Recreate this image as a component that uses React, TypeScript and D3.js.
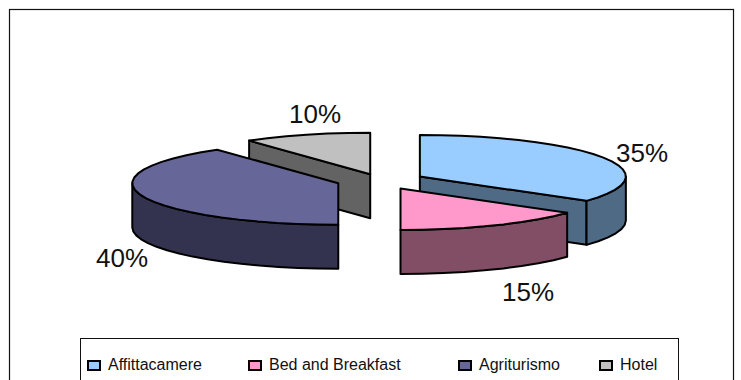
import React from "react";
import * as d3 from "d3";

// Accommodation types and their share of the total, in percent.
const categories = ["Affittacamere", "Bed and Breakfast", "Agriturismo", "Hotel"];
const shares = [35, 15, 40, 10];

const topColors = ["#99CCFF", "#FF99CC", "#666699", "#C0C0C0"];
const wallColors = ["#4F6A85", "#824E66", "#333350", "#636363"];
const explode = [0.215, 0.215, 0.215, 0.16];

// Percent label centres and legend column positions.
const labelAnchors: [number, number][] = [[642, 153], [528, 292], [122, 258], [315, 114]];
const legendColumns = [88, 249, 459, 600];

const WIDTH = 741;
const HEIGHT = 380;
const CX = 380.4;
const CY = 180.5;
const RX = 206;
const RY = 41.5;
const DEPTH = 44;
const EDGE = 2;

type Pt = [number, number];

const project = (c: Pt, angle: number, dy = 0): Pt => [
  c[0] + RX * Math.sin(angle),
  c[1] - RY * Math.cos(angle) + dy,
];

// Rim points between two angles, coarse enough to keep the faceted outline of the drawing.
function rim(c: Pt, a0: number, a1: number, dy = 0): Pt[] {
  const steps = Math.max(2, Math.round((a1 - a0) / 0.1));
  return d3.range(steps + 1).map((i) => project(c, a0 + ((a1 - a0) * i) / steps, dy));
}

const line = d3.line<Pt>().curve(d3.curveLinear);
const closed = (pts: Pt[]) => (line(pts) ?? "") + "Z";

export default function App() {
  const arcs = d3.pie<number>().sort(null)(shares);

  const slices = arcs.map((arc, i) => {
    const mid = (arc.startAngle + arc.endAngle) / 2;
    const c: Pt = [
      CX + explode[i] * RX * Math.sin(mid),
      CY - explode[i] * RY * Math.cos(mid),
    ];
    const a0 = arc.startAngle;
    const a1 = arc.endAngle;
    const top = closed([c, ...rim(c, a0, a1)]);

    // Radial walls that face the viewer, seen through the gap between slices.
    const walls: string[] = [];
    const wall = (a: number) => {
      const p = project(c, a);
      walls.push(closed([c, p, [p[0], p[1] + DEPTH], [c[0], c[1] + DEPTH]]));
    };
    if (i === 0) wall(a1);
    if (i === 3) wall(a0);

    // Outer curved wall: only the part of the rim on the near side of the ellipse.
    const lo = Math.max(a0, Math.PI / 2);
    const hi = Math.min(a1, (3 * Math.PI) / 2);
    const outer = lo < hi
      ? closed([...rim(c, lo, hi), ...rim(c, lo, hi, DEPTH).reverse()])
      : null;

    return { i, top, walls, outer };
  });

  // Back slices first so the nearer ones overlap them.
  const order = [3, 0, 2, 1];

  return (
    <svg
      width={WIDTH}
      height={HEIGHT}
      viewBox={`0 0 ${WIDTH} ${HEIGHT}`}
      style={{ position: "fixed", left: 0, top: 0, background: "#fff" }}
      fontFamily="'Liberation Sans', Arial, sans-serif"
    >
      <rect x={9.5} y={9.5} width={724} height={400} fill="#fff" stroke="#111" strokeWidth={1.2} />

      {order.map((k) => {
        const s = slices[k];
        return (
          <g key={k} stroke="#000" strokeWidth={EDGE} strokeLinejoin="round">
            {s.walls.map((d, j) => (
              <path key={j} d={d} fill={wallColors[k]} />
            ))}
            {s.outer && <path d={s.outer} fill={wallColors[k]} />}
            <path d={s.top} fill={topColors[k]} />
          </g>
        );
      })}

      {shares.map((v, i) => (
        <text
          key={i}
          x={labelAnchors[i][0]}
          y={labelAnchors[i][1]}
          fontSize={26}
          fill="#111"
          textAnchor="middle"
          dominantBaseline="central"
        >
          {v}%
        </text>
      ))}

      <rect x={80.5} y={338.5} width={598} height={60} fill="#fff" stroke="#111" strokeWidth={1} />
      {categories.map((name, i) => (
        <g key={name}>
          <rect
            x={legendColumns[i]}
            y={361}
            width={12}
            height={9}
            fill={topColors[i]}
            stroke="#000"
            strokeWidth={2}
          />
          <text x={legendColumns[i] + 20} y={370} fontSize={16} fill="#111">
            {name}
          </text>
        </g>
      ))}
    </svg>
  );
}
